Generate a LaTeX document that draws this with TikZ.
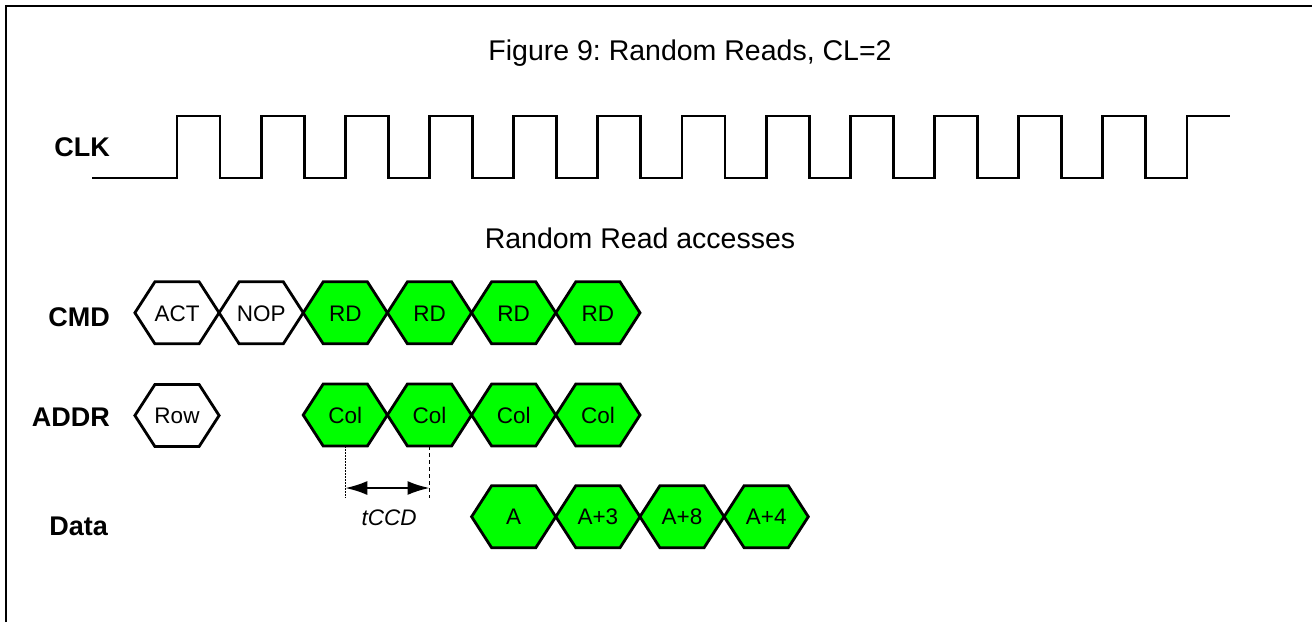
\documentclass[tikz,border=0pt]{standalone}
\usepackage{fontspec}
\setmainfont{Liberation Sans}
\usetikzlibrary{arrows.meta}

% one unit = 1pt, y grows downwards
\tikzset{
  wave/.style={line width=2.8pt, line join=miter},
  frameline/.style={line width=2.8pt},
  hexline/.style={draw=black, line width=2.8pt, line join=miter},
  hexlabel/.style={inner sep=0pt, minimum width=84.2pt, minimum height=62pt,
    text height=16.5pt, text depth=0pt, font=\fontsize{22.5}{27}\selectfont},
  siglabel/.style={anchor=base east, inner sep=0pt, font=\fontsize{27}{32}\selectfont\bfseries},
  caption/.style={anchor=base, inner sep=0pt, font=\fontsize{28.5}{34}\selectfont},
  guidedot/.style={line width=1pt, dash pattern=on 1.5pt off 1.5pt},
  guidedash/.style={line width=1.5pt, dash pattern=on 4pt off 3pt},
  span/.style={line width=2pt, {Latex[length=22pt,width=14pt]}-{Latex[length=22pt,width=14pt]}},
}

% hexagonal bus cell: name, centre x, centre y, text, fill colour
\newcommand\buscell[5]{%
  \path[hexline, fill=#5] ({#2-42.1},{#3}) -- ({#2-22.1},{#3-31}) -- ({#2+22.1},{#3-31})
    -- ({#2+42.1},{#3}) -- ({#2+22.1},{#3+31}) -- ({#2-22.1},{#3+31}) -- cycle;
  \node[hexlabel] (#1) at (#2,#3) {#4};
}

\definecolor{busgreen}{RGB}{0,255,0}

\begin{document}
\frenchspacing
\begin{tikzpicture}[x=1pt, y=-1pt]
  \useasboundingbox (0,0) rectangle (1312,622);

  % frame
  \draw[frameline] (6,622) -- (6,6) -- (1312,6);

  % titles
  \node[caption] (title) at (690,60) {Figure 9: Random Reads, CL=2};
  \node[caption] (sub) at (640,248) {Random Read accesses};

  % signal names
  \node[siglabel] (lclk)  at (110,156)   {CLK};
  \node[siglabel] (lcmd)  at (110,326)   {CMD};
  \node[siglabel] (laddr) at (110,426.7) {ADDR};
  \node[siglabel] (ldata) at (108,535)   {Data};

  % clock waveform
  \draw[wave] (92,178)
    foreach \k in {0,...,11} {
      -- ({177+84.17*\k},178) -- ({177+84.17*\k},116)
      -- ({220+84.17*\k},116) -- ({220+84.17*\k},178)
    }
    -- (1187,178) -- (1187,116) -- (1230,116);

  % command bus
  \buscell{act}{177}{312.8}{ACT}{white}
  \buscell{nop}{261.2}{312.8}{NOP}{white}
  \buscell{rdA}{345.3}{312.8}{RD}{busgreen}
  \buscell{rdB}{429.5}{312.8}{RD}{busgreen}
  \buscell{rdC}{513.7}{312.8}{RD}{busgreen}
  \buscell{rdD}{597.9}{312.8}{RD}{busgreen}

  % address bus
  \buscell{row}{177}{415.5}{Row}{white}
  \buscell{colA}{345.3}{415}{Col}{busgreen}
  \buscell{colB}{429.5}{415}{Col}{busgreen}
  \buscell{colC}{513.7}{415}{Col}{busgreen}
  \buscell{colD}{597.9}{415}{Col}{busgreen}

  % data bus
  \buscell{dA}{513.7}{516.7}{A}{busgreen}
  \buscell{dB}{597.9}{516.7}{A+3}{busgreen}
  \buscell{dC}{682}{516.7}{A+8}{busgreen}
  \buscell{dD}{766.2}{516.7}{A+4}{busgreen}

  % tCCD measurement
  \coordinate (gA) at (345.3,498);
  \coordinate (gB) at (429.5,498);
  \coordinate (tA) at (345.3,488);
  \coordinate (tB) at (429.5,488);
  \draw[guidedot]  (colA.south) -- (gA);
  \draw[guidedash] (colB.south) -- (gB);
  \draw[span] (tA) -- (tB);
  \node[anchor=base, inner sep=0pt, font=\fontsize{22.5}{27}\selectfont\itshape] (tccd) at (389,525) {tCCD};
\end{tikzpicture}
\end{document}
